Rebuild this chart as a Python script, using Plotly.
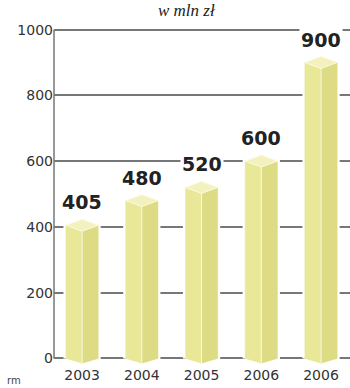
import plotly.graph_objects as go

# ---- data ----
years = ["2003", "2004", "2005", "2006", "2006"]
values = [405, 480, 520, 600, 900]
y_ticks = [0, 200, 400, 600, 800, 1000]
title_text = "w mln zł"
source_text = "rm"

# ---- style ----
LEFT = "#E9E899"
RIGHT = "#DDDB84"
TOP = "#F3F2BE"
GRID = "#777777"
HALF_W = 0.27      # half width of prism in category units
DEPTH = 18         # vertical depth of diamond in value units

fig = go.Figure()
xs = list(range(len(values)))

for i, v in zip(xs, values):
    cx = i
    # white halo (cuts grid lines)
    hx = [cx - HALF_W, cx - HALF_W, cx, cx + HALF_W, cx + HALF_W, cx, cx - HALF_W]
    hy = [0, v, v + DEPTH, v, 0, -DEPTH * 0.8, 0]
    fig.add_trace(go.Scatter(x=hx, y=hy, mode="lines", fill="toself",
                             fillcolor="white", line=dict(color="white", width=5),
                             hoverinfo="skip", showlegend=False))
    # left face
    fig.add_trace(go.Scatter(
        x=[cx - HALF_W, cx - HALF_W, cx, cx, cx - HALF_W],
        y=[0, v, v - DEPTH, -DEPTH * 0.8, 0],
        mode="lines", fill="toself", fillcolor=LEFT,
        line=dict(color=LEFT, width=0.5), hoverinfo="skip", showlegend=False))
    # right face
    fig.add_trace(go.Scatter(
        x=[cx, cx, cx + HALF_W, cx + HALF_W, cx],
        y=[-DEPTH * 0.8, v - DEPTH, v, 0, -DEPTH * 0.8],
        mode="lines", fill="toself", fillcolor=RIGHT,
        line=dict(color=RIGHT, width=0.5), hoverinfo="skip", showlegend=False))
    # top
    fig.add_trace(go.Scatter(
        x=[cx - HALF_W, cx, cx + HALF_W, cx, cx - HALF_W],
        y=[v, v + DEPTH, v, v - DEPTH, v],
        mode="lines", fill="toself", fillcolor=TOP,
        line=dict(color="#FAFAE0", width=1), hoverinfo="skip", showlegend=False))
    # front edge highlight
    fig.add_trace(go.Scatter(
        x=[cx, cx], y=[-DEPTH * 0.8, v - DEPTH], mode="lines",
        line=dict(color="#FBFBEA", width=1), hoverinfo="skip", showlegend=False))

annotations = []
for i, v in zip(xs, values):
    annotations.append(dict(
        x=i, y=v, xref="x", yref="y", text=f"<b>{v}</b>", showarrow=False,
        yshift=23, font=dict(family="DejaVu Sans", size=19, color="#222"),
        bgcolor="white", borderpad=1))

annotations.append(dict(x=0.45, y=1.0, xref="paper", yref="paper",
                        xanchor="center", yanchor="bottom", yshift=6,
                        text=f"<i>{title_text}</i>", showarrow=False,
                        font=dict(family="Liberation Serif", size=17, color="#222")))
annotations.append(dict(x=-0.135, y=-0.045, xref="paper", yref="paper",
                        xanchor="center", yanchor="middle", text=source_text,
                        showarrow=False,
                        font=dict(family="DejaVu Sans", size=10, color="#444")))

fig.update_layout(
    width=350, height=388,
    margin=dict(l=54, r=0, t=28, b=23),
    plot_bgcolor="white", paper_bgcolor="white",
    annotations=annotations,
    shapes=[dict(type="line", xref="paper", yref="y", x0=0, x1=0, y0=0, y1=1000,
                 line=dict(color=GRID, width=1.5))],
    xaxis=dict(range=[-0.47, 4.485], tickvals=xs, ticktext=years,
               showgrid=False, zeroline=False, showline=False, ticks="",
               tickfont=dict(family="DejaVu Sans", size=14, color="#333"),
               fixedrange=True),
    yaxis=dict(range=[-20, 1005], tickvals=y_ticks, showgrid=True,
               gridcolor=GRID, gridwidth=1.5, zeroline=False, showline=False,
               ticks="", tickfont=dict(family="DejaVu Sans", size=14, color="#333"),
               fixedrange=True),
)

fig.write_html("out.html")
